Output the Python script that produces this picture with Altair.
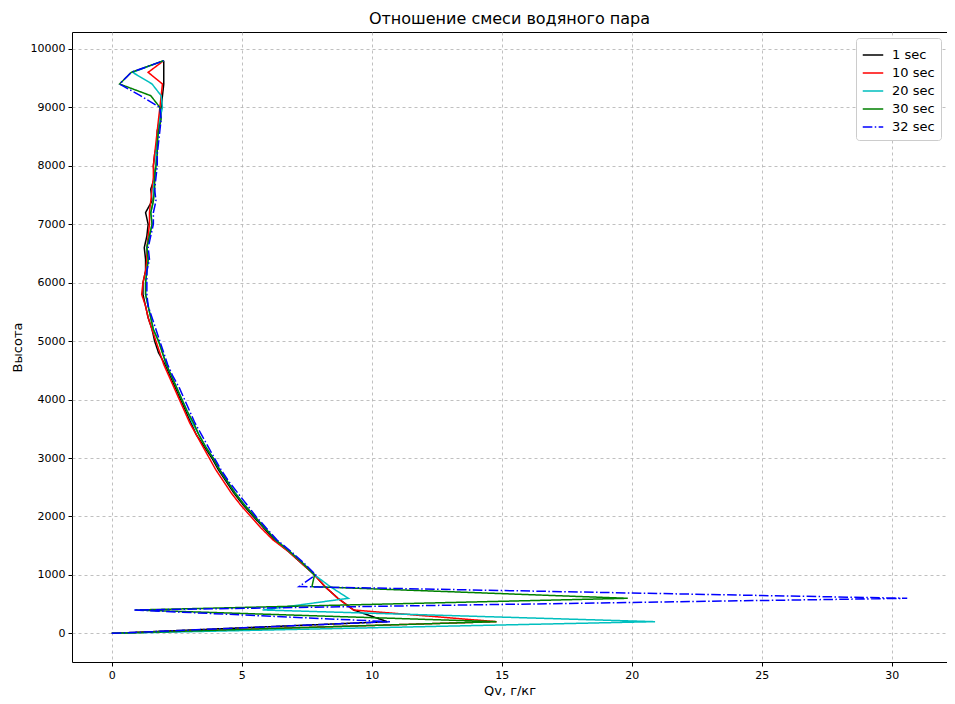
import altair as alt
import pandas as pd

heights = [0, 200, 400, 600, 800, 1000, 1200, 1400, 1600, 1800,
           2000, 2200, 2400, 2600, 2800, 3000, 3200, 3400, 3600, 3800,
           4000, 4200, 4400, 4600, 4800, 5000, 5200, 5400, 5600, 5800,
           6000, 6200, 6400, 6600, 6800, 7000, 7200, 7400, 7600, 7800,
           8000, 8200, 8400, 8600, 8800, 9000, 9200, 9400, 9600, 9800]

qv_1 = [0, 10.6, 9.3, 8.7, 8.2, 7.8, 7.3, 6.8, 6.25, 5.85,
        5.45, 5.05, 4.7, 4.4, 4.1, 3.85, 3.55, 3.25, 3.05, 2.85,
        2.65, 2.45, 2.25, 2.05, 1.8, 1.65, 1.55, 1.4, 1.3, 1.2,
        1.2, 1.3, 1.3, 1.25, 1.35, 1.4, 1.3, 1.55, 1.5, 1.65,
        1.6, 1.65, 1.75, 1.75, 1.85, 1.9, 1.95, 2.0, 2.0, 2.0]

qv_10 = [0, 14.8, 9.3, 8.7, 8.2, 7.8, 7.3, 6.8, 6.2, 5.75,
         5.35, 4.95, 4.6, 4.3, 4.0, 3.75, 3.5, 3.25, 3.0, 2.8,
         2.6, 2.4, 2.2, 2.0, 1.85, 1.7, 1.55, 1.4, 1.3, 1.15,
         1.2, 1.3, 1.35, 1.35, 1.4, 1.45, 1.45, 1.5, 1.55, 1.6,
         1.6, 1.65, 1.7, 1.75, 1.8, 1.85, 1.9, 1.95, 1.4, 2.0]

qv_20 = [0, 20.9, 5.8, 9.1, 8.4, 7.8, 7.35, 6.85, 6.3, 5.9,
         5.5, 5.1, 4.75, 4.45, 4.15, 3.9, 3.6, 3.35, 3.1, 2.9,
         2.7, 2.5, 2.3, 2.1, 1.95, 1.8, 1.6, 1.5, 1.4, 1.3,
         1.3, 1.35, 1.4, 1.35, 1.45, 1.55, 1.5, 1.6, 1.6, 1.65,
         1.7, 1.7, 1.75, 1.8, 1.85, 1.95, 1.9, 1.55, 0.8, 2.0]

qv_30 = [0, 14.8, 0.9, 19.85, 7.7, 7.8, 7.35, 6.85, 6.3, 5.9,
         5.5, 5.1, 4.75, 4.45, 4.15, 3.9, 3.6, 3.35, 3.15, 2.9,
         2.7, 2.5, 2.3, 2.1, 1.95, 1.8, 1.6, 1.5, 1.4, 1.3,
         1.3, 1.35, 1.4, 1.35, 1.45, 1.55, 1.5, 1.6, 1.65, 1.65,
         1.7, 1.75, 1.75, 1.8, 1.9, 1.85, 1.5, 0.3, 0.75, 2.0]

qv_32 = [0, 10.7, 0.85, 30.6, 7.2, 7.85, 7.4, 6.9, 6.35, 5.95,
         5.55, 5.2, 4.85, 4.5, 4.2, 3.95, 3.7, 3.45, 3.2, 3.0,
         2.8, 2.6, 2.35, 2.15, 2.0, 1.85, 1.7, 1.55, 1.4, 1.35,
         1.35, 1.35, 1.45, 1.4, 1.5, 1.6, 1.6, 1.7, 1.65, 1.7,
         1.75, 1.75, 1.8, 1.85, 1.9, 1.85, 1.1, 0.3, 0.75, 2.0]

series_names = ["1 sec", "10 sec", "20 sec", "30 sec", "32 sec"]
series_values = [qv_1, qv_10, qv_20, qv_30, qv_32]
series_colors = ["#000000", "#ff0000", "#00bfbf", "#008000", "#0000ff"]
series_dashes = [[1, 0], [1, 0], [1, 0], [1, 0], [9.6, 2.4, 1.5, 2.4]]

x_ticks = [0, 5, 10, 15, 20, 25, 30]
y_ticks = [0, 1000, 2000, 3000, 4000, 5000, 6000, 7000, 8000, 9000, 10000]

rows = []
for name, vals in zip(series_names, series_values):
    for i, (h, q) in enumerate(zip(heights, vals)):
        rows.append({"series": name, "idx": i, "height": h, "qv": q})
df = pd.DataFrame(rows)

FONT = "DejaVu Sans"

chart = alt.Chart(df).mark_line(strokeWidth=1.5, clip=True).encode(
    x=alt.X("qv:Q", scale=alt.Scale(domain=[-1.53, 32.13], nice=False, zero=False),
            axis=alt.Axis(title="Qv, г/кг", values=x_ticks, format="d")),
    y=alt.Y("height:Q", scale=alt.Scale(domain=[-490, 10290], nice=False, zero=False),
            axis=alt.Axis(title="Высота", values=y_ticks, format="d")),
    color=alt.Color("series:N",
                    scale=alt.Scale(domain=series_names, range=series_colors),
                    legend=alt.Legend(title=None)),
    strokeDash=alt.StrokeDash("series:N",
                              scale=alt.Scale(domain=series_names, range=series_dashes),
                              legend=alt.Legend(title=None)),
    order=alt.Order("idx:Q"),
).properties(
    width=875,
    height=630,
    title=alt.TitleParams("Отношение смеси водяного пара", font=FONT, fontSize=16,
                          fontWeight="normal", color="#000000", offset=5),
    padding={"left": 64, "top": 24, "right": 0, "bottom": 34},
    autosize=alt.AutoSizeParams(type="none"),
).configure_view(
    stroke="#000000", strokeWidth=1
).configure_axis(
    grid=True, gridColor="#b0b0b0", gridDash=[3, 3], gridWidth=0.8,
    domain=False, ticks=True, tickSize=4, tickColor="#000000",
    labelFont=FONT, labelFontSize=11, labelColor="#000000", labelPadding=3,
    titleFont=FONT, titleFontSize=13, titleFontWeight="normal", titleColor="#000000",
).configure_axisY(
    titlePadding=6
).configure_axisX(
    titlePadding=4
).configure_legend(
    orient="top-right", offset=6, fillColor="#ffffff", strokeColor="#cccccc",
    cornerRadius=3, padding=6, symbolType="stroke", symbolSize=420,
    symbolStrokeWidth=1.5, labelFont=FONT, labelFontSize=13, labelColor="#000000",
    rowPadding=0, labelOffset=8,
)

chart.save("out.html", embed_options={"renderer": "svg", "actions": False})
